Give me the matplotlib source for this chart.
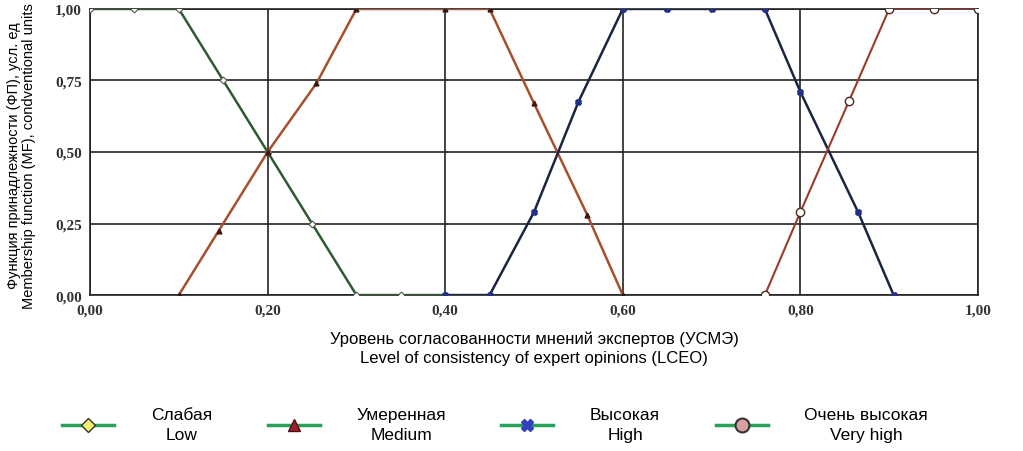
import matplotlib
matplotlib.use('Agg')
import matplotlib.pyplot as plt
from matplotlib.lines import Line2D
from matplotlib.ticker import FuncFormatter

# membership functions
x_low = [0.00, 0.05, 0.10, 0.15, 0.20, 0.25, 0.30, 0.35, 0.40]
y_low = [1.00, 1.00, 1.00, 0.75, 0.50, 0.25, 0.00, 0.00, 0.00]

x_med = [0.10, 0.145, 0.20, 0.255, 0.30, 0.40, 0.45, 0.50, 0.56, 0.60]
y_med = [0.00, 0.225, 0.50, 0.74, 1.00, 1.00, 1.00, 0.67, 0.28, 0.00]

x_high = [0.40, 0.45, 0.50, 0.55, 0.60, 0.65, 0.70, 0.76, 0.80, 0.865, 0.905]
y_high = [0.00, 0.00, 0.29, 0.675, 1.00, 1.00, 1.00, 1.00, 0.71, 0.29, 0.00]

x_vhigh = [0.76, 0.80, 0.855, 0.90, 0.95, 1.00]
y_vhigh = [0.00, 0.29, 0.68, 1.00, 1.00, 1.00]

labels = ['Слабая\nLow', 'Умеренная\nMedium', 'Высокая\nHigh', 'Очень высокая\nVery high']
xticks = [0.0, 0.2, 0.4, 0.6, 0.8, 1.0]
yticks = [0.0, 0.25, 0.5, 0.75, 1.0]

plt.rcParams['font.family'] = ['Liberation Sans', 'DejaVu Sans']

fig = plt.figure(figsize=(10.23, 4.52), dpi=100)
ax = fig.add_axes([0.088, 0.345, 0.868, 0.633])

ax.plot(x_low, y_low, color='#2f5a2f', lw=1.8, marker='D', ms=3.5,
        mfc='white', mec='#555555', mew=0.8, zorder=3)
ax.plot(x_med, y_med, color='#a8502e', lw=1.8, marker='^', ms=3.5,
        mfc='#3a1a10', mec='#3a1a10', zorder=3)
ax.plot(x_high, y_high, color='#1c2444', lw=1.8, marker='X', ms=4,
        mfc='#22308a', mec='#22308a', zorder=3)
ax.plot(x_vhigh, y_vhigh, color='#9b3b2e', lw=1.5, marker='o', ms=6,
        mfc='white', mec='#4a2a20', mew=1.0, zorder=3)

ax.set_xlim(0, 1.0)
ax.set_ylim(0, 1.0)
ax.set_xticks(xticks)
ax.set_yticks(yticks)
fmt = FuncFormatter(lambda v, p: ('%.2f' % v).replace('.', ','))
ax.xaxis.set_major_formatter(fmt)
ax.yaxis.set_major_formatter(fmt)
for t in ax.get_xticklabels() + ax.get_yticklabels():
    t.set_fontfamily('Liberation Serif')
    t.set_fontweight('bold')
    t.set_fontsize(11)
    t.set_color('#333333')
ax.tick_params(length=0, pad=6)
ax.grid(True, color='#222222', lw=1.2)
for s in ax.spines.values():
    s.set_color('#222222')
    s.set_linewidth(1.2)

ax.set_xlabel('Уровень согласованности мнений экспертов (УСМЭ)\n'
              'Level of consistency of expert opinions (LCEO)',
              fontsize=12, linespacing=1.35, labelpad=10)
fig.text(0.021, 0.655, 'Функция принадлежности (ФП), усл. ед\n'
         'Membership function (MF), condventional units',
         rotation=90, fontsize=10.5, ha='center', va='center', linespacing=1.15)

green = '#2aa05a'
handles = [
    Line2D([], [], color=green, lw=2.5, marker='D', ms=7, mfc='#f0f070', mec='#333333'),
    Line2D([], [], color=green, lw=2.5, marker='^', ms=8, mfc='#a02030', mec='#501010'),
    Line2D([], [], color=green, lw=2.5, marker='X', ms=9, mfc='#3040c0', mec='#3040c0'),
    Line2D([], [], color=green, lw=2.5, marker='o', ms=10, mfc='#d8a0a0', mec='#333333', mew=1.5),
]
leg = fig.legend(handles, labels, loc='center', bbox_to_anchor=(0.484, 0.058),
                 ncol=4, frameon=False, fontsize=12.5, handlelength=3.0,
                 handletextpad=2.1, columnspacing=3.2)
for t in leg.get_texts():
    t.set_multialignment('center')
    t.set_linespacing(1.4)

fig.savefig('out.png', dpi=100)
